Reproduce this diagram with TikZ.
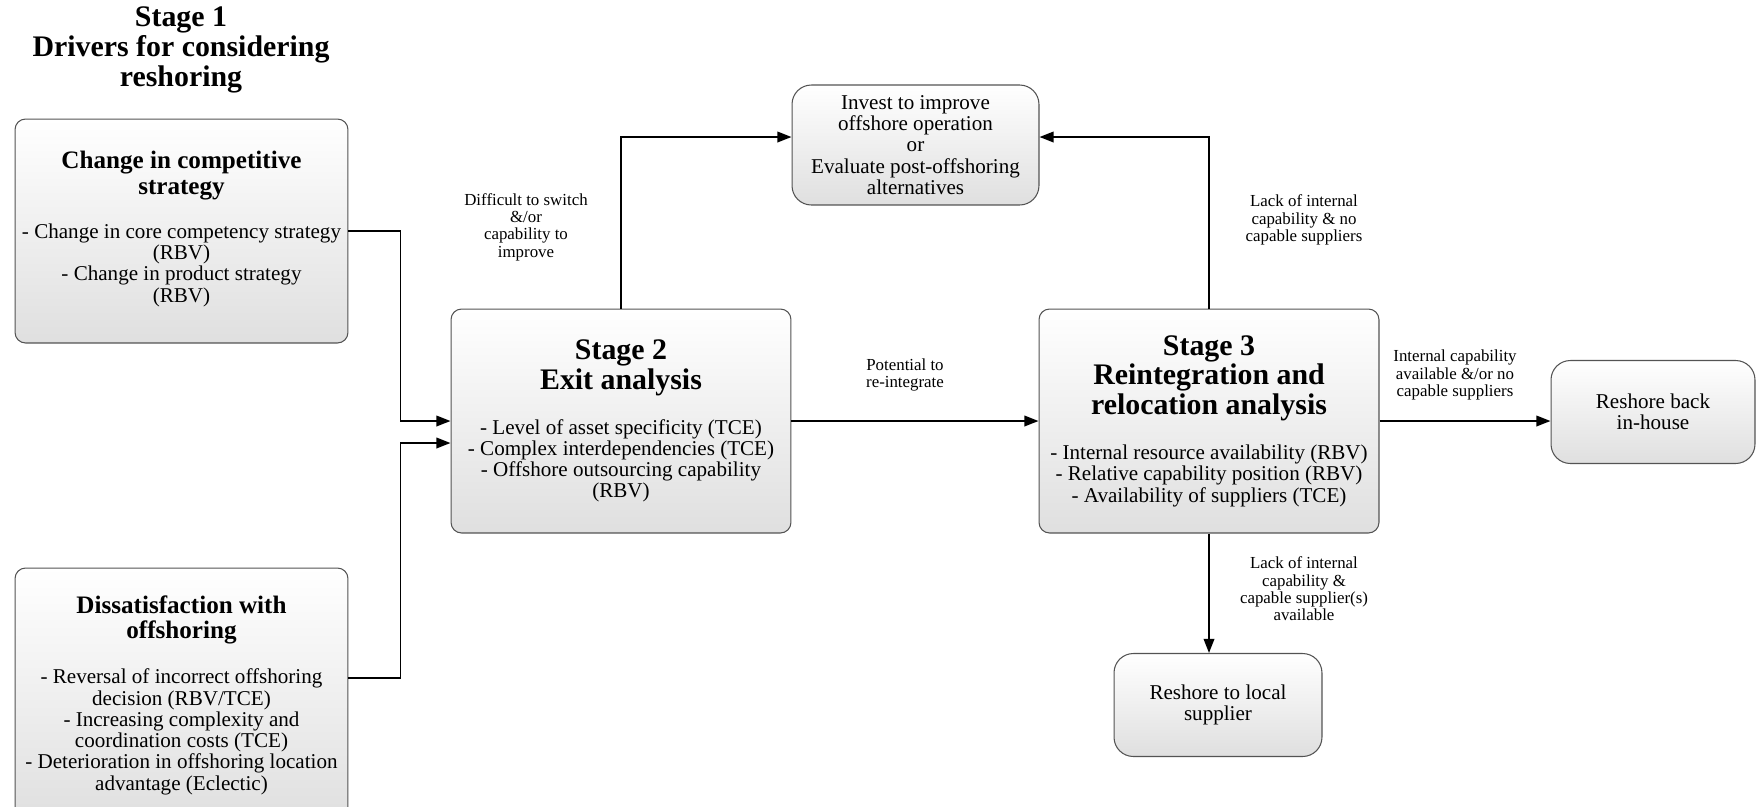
\documentclass[tikz,border=0pt]{standalone}
\usepackage{fontspec}
\setmainfont{Liberation Serif}
\usetikzlibrary{arrows.meta,positioning}

\newcommand{\stagefont}{\bfseries\fontsize{17}{17}\selectfont}
\newcommand{\headfont}{\bfseries\fontsize{14.3}{14.7}\selectfont}

\tikzset{
  stagebox/.style={draw=gray!65!black, line width=0.6pt, rounded corners=6pt,
    top color=white, bottom color=gray!25, align=center,
    font=\fontsize{12}{12.1}\selectfont, minimum width=6.8cm, minimum height=4.48cm},
  outbox/.style={stagebox, rounded corners=11pt, minimum height=2.06cm},
  cond/.style={align=center, font=\fontsize{9.6}{9.9}\selectfont},
  link/.style={-{Triangle[length=8pt,width=6pt]}, line width=1pt},
}

\begin{document}
\lineskiplimit=-\maxdimen
\begin{tikzpicture}[x=0.02cm, y=-0.02cm]
        \useasboundingbox (0,0) rectangle (1756,806);
        % stage 1
        \node[align=center, font=\stagefont] (title) at (181,50) {Stage 1\\Drivers for considering\\reshoring};
        \node[stagebox, minimum width=6.66cm] (comp) at (181.5,231)
            {{\headfont Change in competitive}\\[2.6pt]{\headfont strategy}\\[13pt]
             - Change in core competency strategy\\(RBV)\\- Change in product strategy\\(RBV)\\[-7pt]};
        \node[stagebox, minimum width=6.66cm, minimum height=5.08cm] (dissat) at (181.5,695)
            {{\headfont Dissatisfaction with}\\[2.6pt]{\headfont offshoring}\\[13.4pt]
             - Reversal of incorrect offshoring\\decision (RBV/TCE)\\- Increasing complexity and\\coordination costs (TCE)\\- Deterioration in offshoring location\\advantage (Eclectic)};
        % stage 2 and 3
        \node[stagebox] (exit) at (621,421)
            {{\stagefont Stage 2}\\[4.9pt]{\stagefont Exit analysis}\\[13.4pt]
             - Level of asset specificity (TCE)\\- Complex interdependencies (TCE)\\- Offshore outsourcing capability\\(RBV)};
        \node[stagebox] (reint) at (1209,421)
            {{\stagefont Stage 3}\\[4.9pt]{\stagefont Reintegration and}\\[4.9pt]{\stagefont relocation analysis}\\[13.4pt]
             - Internal resource availability (RBV)\\- Relative capability position (RBV)\\- Availability of suppliers (TCE)};
        % outcomes
        \node[outbox, minimum width=4.94cm, minimum height=2.4cm] (invest) at (915.5,145)
            {Invest to improve\\offshore operation\\or\\Evaluate post-offshoring\\alternatives};
        \node[outbox, minimum width=4.08cm] (inhouse) at (1653,412) {Reshore back\\in-house};
        \node[outbox, minimum width=4.16cm] (local) at (1218,705) {Reshore to local\\supplier};
        % conditions
        \node[cond] (switch) at (526,227) {Difficult to switch\\\&/or\\capability to\\improve};
        \node[cond] (potential) at (905,375) {Potential to\\re-integrate};
        \node[cond] (nocap) at (1304,220) {Lack of internal\\capability \& no\\capable suppliers};
        \node[cond] (incap) at (1455,375) {Internal capability\\available \&/or no\\capable suppliers};
        \node[cond] (locap) at (1304,589) {Lack of internal\\capability \&\\capable supplier(s)\\available};
        % connectors
        \draw[link] (comp.east) -- ++(52,0) |- (exit.west);
        \draw[link] ([yshift=0.34cm]dissat.east) -- ++(52,0) |- ([yshift=-0.44cm]exit.west);
        \draw[link] (exit.north) |- ([yshift=0.16cm]invest.west);
        \draw[link] (reint.north) |- ([yshift=0.16cm]invest.east);
        \draw[link] (exit.east) -- (reint.west);
        \draw[link] (reint.east) -- (reint.east -| inhouse.west);
        \draw[link] (reint.south) -- (reint.south |- local.north);
\end{tikzpicture}
\end{document}
